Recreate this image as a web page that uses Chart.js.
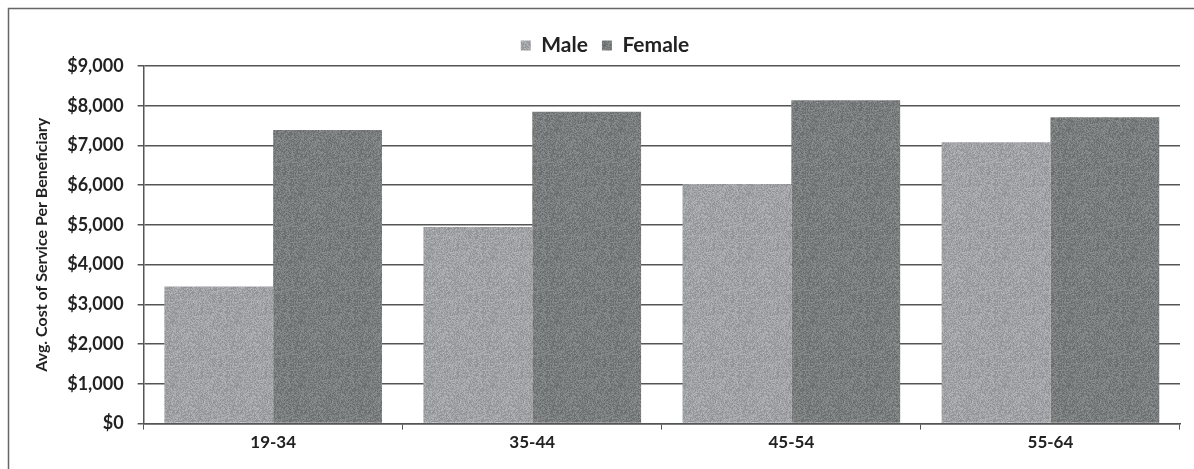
<!DOCTYPE html>
<html lang="en">
<head>
  <meta charset="UTF-8">
  <title>Avg. Cost of Service Per Beneficiary</title>
  <script src="https://cdn.jsdelivr.net/npm/chart.js"></script>
  <style>
    html, body { margin: 0; padding: 0; background: #fff; }
    .chart-box { position: relative; width: 1194px; height: 469px; }
  </style>
</head>
<body>

<div class="chart-box">
  <canvas id="costChart" width="1194" height="469"></canvas>
</div>

<script>
  // data
  const ageGroups = ['19-34', '35-44', '45-54', '55-64'];
  const maleCost = [3450, 4950, 6030, 7080];
  const femaleCost = [7390, 7850, 8140, 7710];
  const yTicks = [0, 1000, 2000, 3000, 4000, 5000, 6000, 7000, 8000, 9000];

  // grainy grey fill, like the scanned original (fixed hash, not data)
  function grainPattern(base) {
    const n = 64;
    const c = document.createElement('canvas');
    c.width = n; c.height = n;
    const g = c.getContext('2d');
    const img = g.createImageData(n, n);
    for (let i = 0; i < n * n; i++) {
      let h = (i + 0x6d2b79f5) >>> 0;
      h = Math.imul(h ^ (h >>> 15), h | 1);
      h ^= h + Math.imul(h ^ (h >>> 7), h | 61);
      h = (h ^ (h >>> 14)) >>> 0;
      const d = ((h & 255) / 255 - 0.5) * 40;
      img.data[i * 4] = base[0] + d;
      img.data[i * 4 + 1] = base[1] + d;
      img.data[i * 4 + 2] = base[2] + d;
      img.data[i * 4 + 3] = 255;
    }
    g.putImageData(img, 0, 0);
    return g.createPattern(c, 'repeat');
  }

  const frame = {
    id: 'frame',
    afterDraw(chart) {
      const ctx = chart.ctx;
      ctx.save();
      ctx.strokeStyle = '#666';
      ctx.lineWidth = 1.5;
      ctx.beginPath();
      ctx.moveTo(8.5, 469);
      ctx.lineTo(8.5, 8.5);
      ctx.lineTo(1194, 8.5);
      ctx.stroke();
      ctx.restore();
    }
  };

  const font = 'Lato, "Open Sans", "DejaVu Sans", sans-serif';

  new Chart(document.getElementById('costChart'), {
    type: 'bar',
    data: {
      labels: ageGroups,
      datasets: [
        {
          label: 'Male',
          data: maleCost,
          backgroundColor: grainPattern([160, 162, 166]),
          borderWidth: 0,
          categoryPercentage: 0.84,
          barPercentage: 1.0
        },
        {
          label: 'Female',
          data: femaleCost,
          backgroundColor: grainPattern([122, 125, 125]),
          borderWidth: 0,
          categoryPercentage: 0.84,
          barPercentage: 1.0
        }
      ]
    },
    options: {
      responsive: false,
      animation: false,
      maintainAspectRatio: false,
      layout: { padding: { left: 30, right: 14, top: 21, bottom: 13 } },
      plugins: {
        legend: {
          position: 'top',
          labels: {
            boxWidth: 10,
            boxHeight: 10,
            padding: 14,
            color: '#222',
            font: { family: font, size: 21, weight: 'bold' }
          }
        },
        tooltip: { enabled: false }
      },
      scales: {
        x: {
          grid: {
            display: true,
            drawOnChartArea: false,
            offset: true,
            color: '#555',
            tickLength: 6
          },
          border: { color: '#555', width: 1.5 },
          ticks: {
            color: '#222',
            padding: 3,
            font: { family: font, size: 17, weight: 'bold' }
          }
        },
        y: {
          min: 0,
          max: 9000,
          afterBuildTicks(axis) {
            axis.ticks = yTicks.map(v => ({ value: v }));
          },
          grid: { color: '#555', lineWidth: 1.5, tickLength: 6 },
          border: { color: '#555', width: 1.5 },
          ticks: {
            color: '#222',
            padding: 14,
            font: { family: font, size: 18, weight: 'bold' },
            callback: v => '$' + v.toLocaleString('en-US')
          },
          title: {
            display: true,
            text: 'Avg. Cost of Service Per Beneficiary',
            color: '#222',
            padding: 2,
            font: { family: font, size: 16, weight: 'bold' }
          }
        }
      }
    },
    plugins: [frame]
  });
</script>

</body>
</html>
